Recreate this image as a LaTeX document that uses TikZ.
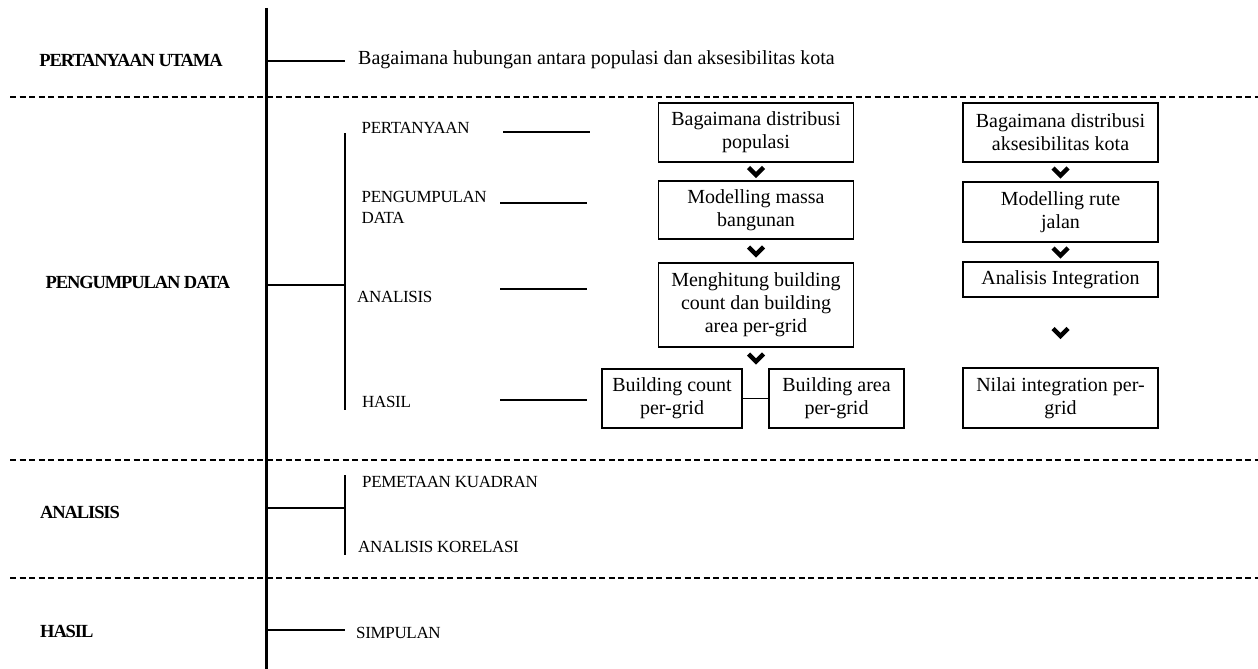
\documentclass[tikz,border=0pt]{standalone}
\usepackage{fontspec}
\setmainfont{Liberation Serif}
\usetikzlibrary{calc}
\begin{document}
\begin{tikzpicture}[x=1pt,y=-1pt,
  boxstyle/.style={draw, line width=1.2pt, inner sep=0pt, align=center,
    font=\fontsize{20}{23}\selectfont},
  capslabel/.style={inner sep=0pt, anchor=west, align=left,
    font=\fontsize{17}{21}\selectfont\addfontfeature{LetterSpace=-2}},
  mainlabel/.style={inner sep=0pt,
    font=\bfseries\fontsize{18.5}{20}\selectfont\addfontfeature{LetterSpace=-6}},
  spine/.style={line width=3pt},
  branch/.style={line width=2.5pt},
  thinline/.style={line width=1.2pt},
  sep/.style={line width=1.3pt, dash pattern=on 6pt off 3.5pt},
  chev/.pic={\draw[line width=4.5pt, line join=miter, line cap=butt] (-7.5,-4)--(0,3.5)--(7.5,-4);}
]
\useasboundingbox (0,0) rectangle (1258,669);

% separators
\coordinate (s1a) at (10,97);  \coordinate (s1b) at (1258,97);
\coordinate (s2a) at (10,460); \coordinate (s2b) at (1258,460);
\coordinate (s3a) at (10,578); \coordinate (s3b) at (1258,578);
\draw[sep] (s1a) -- (s1b);
\draw[sep] (s2a) -- (s2b);
\draw[sep] (s3a) -- (s3b);

% spine
\coordinate (top) at (266,8);
\coordinate (bot) at (266,669);
\draw[spine] (top) -- (bot);

% section labels
\node[mainlabel] (lq) at (131,60) {PERTANYAAN UTAMA};
\node[mainlabel] (ld) at (138,282) {PENGUMPULAN DATA};
\node[mainlabel, anchor=west] (la) at (40,512) {ANALISIS};
\node[mainlabel, anchor=west] (lh) at (40,631) {HASIL};

% pertanyaan utama
\coordinate (j1) at (266,61); \coordinate (j1e) at (345,61);
\draw[branch] (j1) -- (j1e);
\node[inner sep=0pt, anchor=west, font=\fontsize{20}{23}\selectfont] (q) at (358,60)
  {Bagaimana hubungan antara populasi dan aksesibilitas kota};

% pengumpulan data
\coordinate (j2) at (266,285); \coordinate (j2e) at (345,285);
\coordinate (v2a) at (345,133); \coordinate (v2b) at (345,410);
\draw[branch] (j2) -- (j2e);
\draw[branch] (v2a) -- (v2b);

\node[capslabel] (p1) at (361.5,128) {PERTANYAAN};
\node[capslabel] (p2) at (361.5,207.5) {PENGUMPULAN\\DATA};
\node[capslabel] (p3) at (357,297) {ANALISIS};
\node[capslabel] (p4) at (362,402) {HASIL};

\coordinate (t1a) at (503,132); \coordinate (t1b) at (590,132);
\coordinate (t2a) at (500,203); \coordinate (t2b) at (587,203);
\coordinate (t3a) at (500,289); \coordinate (t3b) at (587,289);
\coordinate (t4a) at (500,400); \coordinate (t4b) at (587,400);
\draw[thinline] (t1a) -- (t1b);
\draw[thinline] (t2a) -- (t2b);
\draw[thinline] (t3a) -- (t3b);
\draw[thinline] (t4a) -- (t4b);

% left column
\node[boxstyle, minimum width=195pt, minimum height=59pt] (b1) at (756,132.5) {Bagaimana distribusi\\populasi};
\node[boxstyle, minimum width=195pt, minimum height=58pt] (b2) at (756,210) {Modelling massa\\bangunan};
\node[boxstyle, minimum width=195pt, minimum height=84pt] (b3) at (756,305) {Menghitung building\\count dan building\\area per-grid};
\node[boxstyle, minimum width=140pt, minimum height=59pt] (b4a) at (672,398.5) {Building count\\per-grid};
\node[boxstyle, minimum width=135pt, minimum height=59pt] (b4b) at (836.5,398.5) {Building area\\per-grid};
\draw[thinline] (b4a) -- (b4b);
\pic at ($(b1.south)!0.5!(b2.north)$) {chev};
\pic at ($(b2.south)!0.5!(b3.north)$) {chev};
\pic at ($(b3.south)!0.5!(b4a.north -| b3.south)$) {chev};

% right column
\node[boxstyle, minimum width=195pt, minimum height=59pt] (c1) at (1060.5,132.5) {Bagaimana distribusi\\aksesibilitas kota};
\node[boxstyle, minimum width=195pt, minimum height=60pt] (c2) at (1060.5,212) {Modelling rute\\jalan};
\node[boxstyle, minimum width=195pt, minimum height=35pt] (c3) at (1060.5,279.5) {Analisis Integration};
\node[boxstyle, minimum width=195pt, minimum height=60pt] (c4) at (1060.5,398) {Nilai integration per-\\grid};
\pic at ($(c1.south)!0.5!(c2.north)$) {chev};
\pic at ($(c2.south)!0.5!(c3.north)$) {chev};
\pic at ($(c3.south)!0.5!(c4.north)$) {chev};

% analisis
\coordinate (j3) at (266,508); \coordinate (j3e) at (345,508);
\coordinate (v3a) at (345,475); \coordinate (v3b) at (345,555);
\draw[branch] (j3) -- (j3e);
\draw[branch] (v3a) -- (v3b);
\node[capslabel] (a1) at (362,482) {PEMETAAN KUADRAN};
\node[capslabel] (a2) at (358,547) {ANALISIS KORELASI};

% hasil
\coordinate (j4) at (266,630); \coordinate (j4e) at (345,630);
\draw[branch] (j4) -- (j4e);
\node[capslabel] (h1) at (356,633) {SIMPULAN};
\end{tikzpicture}
\end{document}
